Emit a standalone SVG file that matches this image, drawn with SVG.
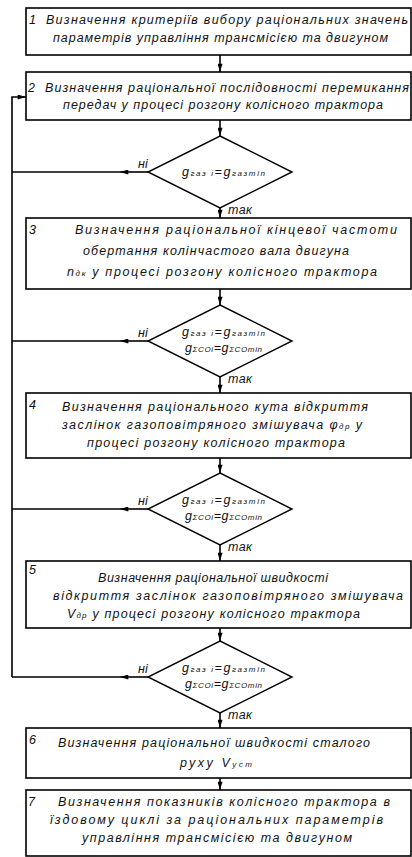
<svg xmlns="http://www.w3.org/2000/svg" width="412" height="857" viewBox="0 0 412 857">
<defs>
<marker id="ah" viewBox="0 0 10 6" refX="10" refY="3" markerWidth="9" markerHeight="5" markerUnits="userSpaceOnUse" orient="auto">
<path d="M0,0 L10,3 L0,6 Z" fill="#000"/>
</marker>
</defs>
<style>
.box{fill:#fff;stroke:#000;stroke-width:1.6}
.dia{fill:#fff;stroke:#000;stroke-width:1.4}
.ln{fill:none;stroke:#000;stroke-width:1.6}
text{font-family:"Liberation Sans","Arial",sans-serif;font-style:italic;font-size:12.5px;fill:#111}
.s{font-size:8px}
.d{font-size:12.5px}
</style>
<rect width="412" height="857" fill="#fff"/>
<g id="connectors">
<path class="ln" d="M220,55 V72" marker-end="url(#ah)"/>
<path class="ln" d="M220,120 V136" marker-end="url(#ah)"/>
<path class="ln" d="M220,208 V218" marker-end="url(#ah)"/>
<path class="ln" d="M220,289 V305" marker-end="url(#ah)"/>
<path class="ln" d="M220,377 V393" marker-end="url(#ah)"/>
<path class="ln" d="M220,458 V473" marker-end="url(#ah)"/>
<path class="ln" d="M220,545 V561" marker-end="url(#ah)"/>
<path class="ln" d="M220,628 V641" marker-end="url(#ah)"/>
<path class="ln" d="M220,713 V728" marker-end="url(#ah)"/>
<path class="ln" d="M220,778 V790" marker-end="url(#ah)"/>
<path class="ln" d="M12,677 V97 H26" marker-end="url(#ah)"/>
<path class="ln" d="M148,172 H120" marker-end="url(#ah)"/><path class="ln" d="M120,172 H12"/>
<path class="ln" d="M148,341 H120" marker-end="url(#ah)"/><path class="ln" d="M120,341 H12"/>
<path class="ln" d="M148,509 H120" marker-end="url(#ah)"/><path class="ln" d="M120,509 H12"/>
<path class="ln" d="M148,677 H120" marker-end="url(#ah)"/><path class="ln" d="M120,677 H12"/>
<text x="138" y="168">ні</text>
<text x="228" y="214" textLength="24" lengthAdjust="spacing">так</text>
<text x="138" y="337">ні</text>
<text x="228" y="383" textLength="24" lengthAdjust="spacing">так</text>
<text x="138" y="505">ні</text>
<text x="228" y="551" textLength="24" lengthAdjust="spacing">так</text>
<text x="138" y="673">ні</text>
<text x="228" y="719" textLength="24" lengthAdjust="spacing">так</text>
</g>
<g id="n1">
<rect class="box" x="26" y="8" width="385" height="47"/>
<text x="29" y="24">1</text>
<text x="46" y="24" textLength="362" lengthAdjust="spacing">Визначення критеріїв вибору раціональних значень</text>
<text x="53" y="42" textLength="335" lengthAdjust="spacing">параметрів управління трансмісією та двигуном</text>
</g>
<g id="n2">
<rect class="box" x="26" y="72" width="385" height="48"/>
<text x="28" y="92">2</text>
<text x="45" y="92" textLength="364" lengthAdjust="spacing">Визначення раціональної послідовності перемикання</text>
<text x="63" y="109" textLength="320" lengthAdjust="spacing">передач у процесі розгону колісного трактора</text>
</g>
<g id="d1">
<polygon class="dia" points="220,136 292,172 220,208 148,172"/>
<text class="d" x="182" y="176" textLength="83" lengthAdjust="spacing">g<tspan class="s">газ і</tspan>=g<tspan class="s">газmin</tspan></text>
</g>
<g id="n3">
<rect class="box" x="26" y="218" width="385" height="71"/>
<text x="29" y="234">3</text>
<text x="75" y="234" textLength="322" lengthAdjust="spacing">Визначення раціональної кінцевої частоти</text>
<text x="83" y="255" textLength="266" lengthAdjust="spacing">обертання колінчастого вала двигуна</text>
<text x="67" y="276" textLength="310" lengthAdjust="spacing">n<tspan class="s">дк</tspan> у процесі розгону колісного трактора</text>
</g>
<g id="d2">
<polygon class="dia" points="220,305 292,341 220,377 148,341"/>
<text class="d" x="182" y="336" textLength="83" lengthAdjust="spacing">g<tspan class="s">газ і</tspan>=g<tspan class="s">газmin</tspan></text>
<text class="d" x="185" y="352" textLength="77" lengthAdjust="spacing">g<tspan class="s">ΣCOi</tspan>=g<tspan class="s">ΣCOmin</tspan></text>
</g>
<g id="n4">
<rect class="box" x="26" y="393" width="385" height="65"/>
<text x="29" y="409">4</text>
<text x="62" y="411" textLength="306" lengthAdjust="spacing">Визначення раціонального кута відкриття</text>
<text x="62" y="429" textLength="300" lengthAdjust="spacing">заслінок газоповітряного змішувача φ<tspan class="s">др</tspan> у</text>
<text x="87" y="447" textLength="258" lengthAdjust="spacing">процесі розгону колісного трактора</text>
</g>
<g id="d3">
<polygon class="dia" points="220,473 292,509 220,545 148,509"/>
<text class="d" x="182" y="504" textLength="83" lengthAdjust="spacing">g<tspan class="s">газ і</tspan>=g<tspan class="s">газmin</tspan></text>
<text class="d" x="185" y="520" textLength="77" lengthAdjust="spacing">g<tspan class="s">ΣCOi</tspan>=g<tspan class="s">ΣCOmin</tspan></text>
</g>
<g id="n5">
<rect class="box" x="26" y="561" width="385" height="67"/>
<text x="29" y="574">5</text>
<text x="98" y="582" textLength="230" lengthAdjust="spacing">Визначення раціональної швидкості</text>
<text x="53" y="600" textLength="350" lengthAdjust="spacing">відкриття заслінок газоповітряного змішувача</text>
<text x="67" y="618" textLength="293" lengthAdjust="spacing">V<tspan class="s">др</tspan> у процесі розгону колісного трактора</text>
</g>
<g id="d4">
<polygon class="dia" points="220,641 292,677 220,713 148,677"/>
<text class="d" x="182" y="672" textLength="83" lengthAdjust="spacing">g<tspan class="s">газ і</tspan>=g<tspan class="s">газmin</tspan></text>
<text class="d" x="185" y="688" textLength="77" lengthAdjust="spacing">g<tspan class="s">ΣCOi</tspan>=g<tspan class="s">ΣCOmin</tspan></text>
</g>
<g id="n6">
<rect class="box" x="26" y="728" width="385" height="50"/>
<text x="29" y="744">6</text>
<text x="58" y="747" textLength="312" lengthAdjust="spacing">Визначення раціональної швидкості сталого</text>
<text x="180" y="767" textLength="72" lengthAdjust="spacing">руху V<tspan class="s">уст</tspan></text>
</g>
<g id="n7">
<rect class="box" x="26" y="790" width="385" height="66"/>
<text x="28" y="806">7</text>
<text x="58" y="806" textLength="332" lengthAdjust="spacing">Визначення показників колісного трактора в</text>
<text x="50" y="824" textLength="333" lengthAdjust="spacing">їздовому циклі за раціональних параметрів</text>
<text x="82" y="842" textLength="270" lengthAdjust="spacing">управління трансмісією та двигуном</text>
</g>
</svg>
